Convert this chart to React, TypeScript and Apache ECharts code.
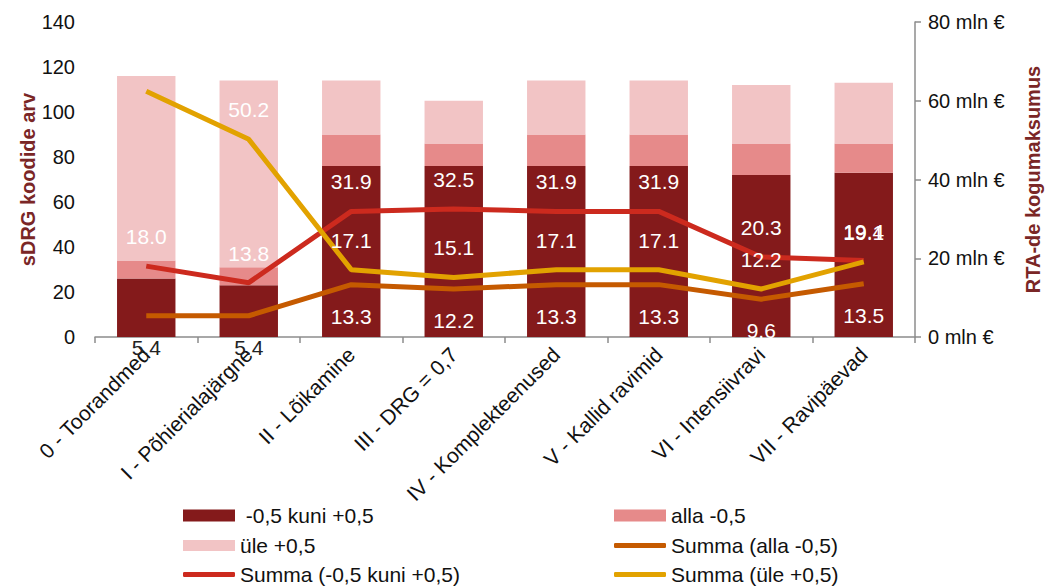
import React, { useEffect, useRef } from "react";
import * as echarts from "echarts";

const categories = [
  "0 - Toorandmed",
  "I - Põhierialajärgne",
  "II - Lõikamine",
  "III - DRG = 0,7",
  "IV - Komplekteenused",
  "V - Kallid ravimid",
  "VI - Intensiivravi",
  "VII - Ravipäevad",
];
const barMid = [26, 23, 76, 76, 76, 76, 72, 73];
const barLow = [8, 8, 14, 10, 14, 14, 14, 13];
const barHigh = [82, 83, 24, 19, 24, 24, 26, 27];
const sumLow = [5.4, 5.4, 13.3, 12.2, 13.3, 13.3, 9.6, 13.5];
const sumMid = [18.0, 13.8, 31.9, 32.5, 31.9, 31.9, 20.3, 19.4];
const sumHigh = [62.4, 50.2, 17.1, 15.1, 17.1, 17.1, 12.2, 19.1];
const leftTicks = { min: 0, max: 140, interval: 20 };
const rightTicks = { min: 0, max: 80, interval: 20 };

const FONT = "'Liberation Sans', Arial, sans-serif";
const C_MID = "#841A1B";
const C_LOW = "#E68A8A";
const C_HIGH = "#F2C4C5";
const L_LOW = "#C55A00";
const L_MID = "#CC2A1E";
const L_HIGH = "#E2A200";
const TITLE = "#7A2626";

export default function App() {
  const ref = useRef<HTMLDivElement>(null);
  useEffect(() => {
    if (!ref.current) return;
    const chart = echarts.init(ref.current, null, { renderer: "svg" });
    const fmt = (p: any) => Number(p.value).toFixed(1);
    const lbl = {
      show: true,
      color: "#fff",
      fontSize: 21,
      fontFamily: FONT,
      formatter: fmt,
    };
    const legendBase = {
      orient: "horizontal",
      itemWidth: 52,
      textStyle: { fontSize: 21, fontFamily: FONT, color: "#111" },
      selectedMode: false,
      padding: 0,
    };
    const option: any = {
      animation: false,
      textStyle: { fontFamily: FONT },
      grid: { left: 95, right: 133, top: 22, bottom: 250, containLabel: false },
      xAxis: {
        type: "category",
        data: categories,
        axisLine: { lineStyle: { color: "#8c8c8c", width: 1.5 } },
        axisTick: { show: true, length: 6, lineStyle: { color: "#8c8c8c", width: 1.5 } },
        axisLabel: {
          rotate: 45,
          fontSize: 21,
          color: "#111",
          fontFamily: FONT,
          margin: 14,
          interval: 0,
        },
      },
      yAxis: [
        {
          type: "value",
          ...leftTicks,
          name: "sDRG koodide arv",
          nameLocation: "middle",
          nameRotate: 90,
          nameGap: 57,
          nameMoveOverlap: false,
          nameTextStyle: { fontSize: 20, fontWeight: "bold", color: TITLE, fontFamily: FONT },
          axisLine: { show: false },
          axisTick: { show: false },
          splitLine: { show: false },
          axisLabel: { fontSize: 20, color: "#111", margin: 20, fontFamily: FONT },
        },
        {
          type: "value",
          ...rightTicks,
          position: "right",
          name: "RTA-de kogumaksumus",
          nameLocation: "middle",
          nameRotate: 90,
          nameGap: 108,
          nameMoveOverlap: false,
          nameTextStyle: { fontSize: 20, fontWeight: "bold", color: TITLE, fontFamily: FONT },
          axisLine: { show: true, lineStyle: { color: "#8c8c8c", width: 1.5 } },
          axisTick: { show: true, length: 6, lineStyle: { color: "#8c8c8c", width: 1.5 } },
          splitLine: { show: false },
          axisLabel: {
            fontSize: 20,
            color: "#111",
            margin: 13,
            fontFamily: FONT,
            formatter: "{value} mln €",
          },
        },
      ],
      legend: [
        { ...legendBase, left: 183, top: 505, itemHeight: 12, icon: "rect", data: [" -0,5 kuni +0,5"] },
        { ...legendBase, left: 614, top: 505, itemHeight: 12, icon: "rect", data: ["alla -0,5"] },
        { ...legendBase, left: 183, top: 535, itemHeight: 11, icon: "rect", data: ["üle +0,5"] },
        { ...legendBase, left: 614, top: 535, itemHeight: 5, icon: "roundRect", data: ["Summa (alla -0,5)"] },
        { ...legendBase, left: 183, top: 564, itemHeight: 5, icon: "roundRect", data: ["Summa (-0,5 kuni +0,5)"] },
        { ...legendBase, left: 614, top: 564, itemHeight: 5, icon: "roundRect", data: ["Summa (üle +0,5)"] },
      ],
      series: [
        {
          name: " -0,5 kuni +0,5",
          type: "bar",
          stack: "b",
          barWidth: "57%",
          data: barMid,
          itemStyle: { color: C_MID },
        },
        {
          name: "alla -0,5",
          type: "bar",
          stack: "b",
          data: barLow,
          itemStyle: { color: C_LOW },
        },
        {
          name: "üle +0,5",
          type: "bar",
          stack: "b",
          data: barHigh,
          itemStyle: { color: C_HIGH },
        },
        {
          name: "Summa (alla -0,5)",
          type: "line",
          yAxisIndex: 1,
          symbol: "circle",
          symbolSize: 0.1,
          showSymbol: true,
          data: sumLow.map((v, i) => (i < 2 ? { value: v, label: { color: "#222" } } : v)),
          lineStyle: { color: L_LOW, width: 5 },
          itemStyle: { color: L_LOW },
          label: { ...lbl, position: "bottom", distance: 21 },
          z: 3,
        },
        {
          name: "Summa (-0,5 kuni +0,5)",
          type: "line",
          yAxisIndex: 1,
          symbol: "circle",
          symbolSize: 0.1,
          showSymbol: true,
          data: sumMid,
          lineStyle: { color: L_MID, width: 5 },
          itemStyle: { color: L_MID },
          label: { ...lbl, position: "top", distance: 19 },
          z: 4,
        },
        {
          name: "Summa (üle +0,5)",
          type: "line",
          yAxisIndex: 1,
          symbol: "circle",
          symbolSize: 0.1,
          showSymbol: true,
          data: sumHigh,
          lineStyle: { color: L_HIGH, width: 5 },
          itemStyle: { color: L_HIGH },
          label: { ...lbl, position: "top", distance: 19 },
          z: 5,
        },
      ],
    };
    chart.setOption(option);
    return () => chart.dispose();
  }, []);
  return (
    <div
      ref={ref}
      style={{ position: "fixed", left: 0, top: 0, width: 1051, height: 587, background: "#fff" }}
    />
  );
}
